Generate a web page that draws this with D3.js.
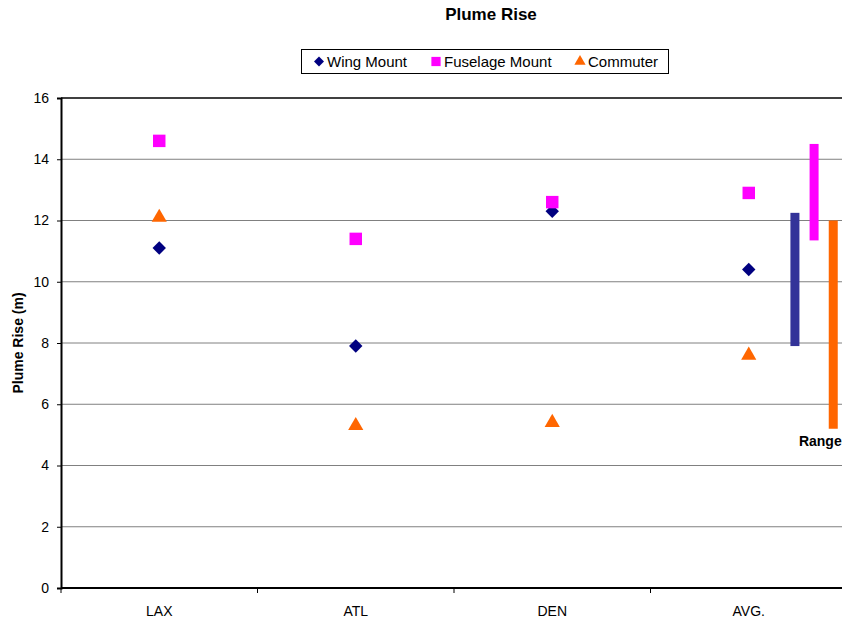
<!DOCTYPE html>
<html>
<head>
<meta charset="utf-8">
<script src="https://cdn.jsdelivr.net/npm/d3@7"></script>
<style>
  body { margin: 0; background: #fff; }
  svg { display: block; font-family: "Liberation Sans", Arial, sans-serif; }
</style>
</head>
<body>
<svg id="chart" width="842" height="622"></svg>
<script>
// --- data ---
const categories = ['LAX', 'ATL', 'DEN', 'AVG.'];
const wingMount = [11.1, 7.9, 12.3, 10.4];
const fuselageMount = [14.6, 11.4, 12.6, 12.9];
const commuter = [12.1, 5.3, 5.4, 7.6];
const yTicks = [0, 2, 4, 6, 8, 10, 12, 14, 16];

// range bars (min / max per series)
const rangeSeries = ['Wing Mount', 'Fuselage Mount', 'Commuter'];
const rangeLow = [7.9, 11.35, 5.2];
const rangeHigh = [12.25, 14.5, 12.0];

// diamond = square turned 45 degrees
const series = [
    { name: 'Wing Mount', values: wingMount, color: '#000080', symbol: d3.symbolSquare, size: 90, rot: 45 },
    { name: 'Fuselage Mount', values: fuselageMount, color: '#ff00ff', symbol: d3.symbolSquare, size: 155, rot: 0 },
    { name: 'Commuter', values: commuter, color: '#ff6600', symbol: d3.symbolTriangle, size: 100, rot: 0 }
];
const rangeColors = ['#333399', '#ff00ff', '#ff6600'];

const svg = d3.select('#chart');
const margin = { left: 61, top: 98, right: 847, bottom: 588 };

const x = d3.scaleBand().domain(categories).range([margin.left, margin.right]);
const y = d3.scaleLinear().domain([0, 16]).range([margin.bottom, margin.top]);

// gridlines
svg.append('g')
    .selectAll('line')
    .data(yTicks.filter(t => t > 0))
    .join('line')
    .attr('x1', margin.left)
    .attr('x2', margin.right)
    .attr('y1', d => y(d))
    .attr('y2', d => y(d))
    .attr('stroke', d => d === 16 ? '#000' : '#808080')
    .attr('stroke-width', d => d === 16 ? 1.5 : 1);

// y axis
const yAxis = svg.append('g')
    .attr('transform', `translate(${margin.left},0)`)
    .call(d3.axisLeft(y).tickValues(yTicks).tickSize(4).tickPadding(8));
yAxis.select('.domain').attr('stroke', '#000').attr('stroke-width', 2);
yAxis.selectAll('.tick line').attr('stroke', '#000');
yAxis.selectAll('.tick text').attr('font-size', 14).attr('fill', '#000')
    .attr('font-family', '"Liberation Sans", Arial, sans-serif');

// x axis: ticks on category boundaries
const xAxis = svg.append('g')
    .attr('transform', `translate(0,${margin.bottom})`);
xAxis.append('line')
    .attr('x1', margin.left).attr('x2', margin.right)
    .attr('stroke', '#000').attr('stroke-width', 2);
xAxis.selectAll('line.tk')
    .data(categories)
    .join('line')
    .attr('class', 'tk')
    .attr('x1', d => x(d)).attr('x2', d => x(d))
    .attr('y1', 0).attr('y2', 5)
    .attr('stroke', '#000');
xAxis.selectAll('text')
    .data(categories)
    .join('text')
    .attr('x', d => x(d) + x.bandwidth() / 2)
    .attr('y', 28)
    .attr('text-anchor', 'middle')
    .attr('font-size', 14)
    .text(d => d);

// markers
series.forEach(s => {
    svg.append('g')
        .selectAll('path')
        .data(s.values)
        .join('path')
        .attr('d', d3.symbol().type(s.symbol).size(s.size))
        .attr('transform', (d, i) => `translate(${x(categories[i]) + x.bandwidth() / 2},${y(d)}) rotate(${s.rot})`)
        .attr('fill', s.color);
});

// range bars inside the AVG. band
const avg = categories[categories.length - 1];
const rx = d3.scalePoint()
    .domain(rangeSeries)
    .range([x(avg) + x.bandwidth() * 0.735, x(avg) + x.bandwidth() * 0.93]);
svg.append('g')
    .selectAll('rect')
    .data(rangeSeries)
    .join('rect')
    .attr('x', d => rx(d) - 4.5)
    .attr('width', 9)
    .attr('y', (d, i) => y(rangeHigh[i]))
    .attr('height', (d, i) => y(rangeLow[i]) - y(rangeHigh[i]))
    .attr('fill', (d, i) => rangeColors[i]);

svg.append('text')
    .attr('x', rx('Wing Mount') + 4)
    .attr('y', y(4.65))
    .attr('font-size', 14)
    .attr('font-weight', 'bold')
    .text('Range');

// title
svg.append('text')
    .attr('x', 491)
    .attr('y', 20)
    .attr('text-anchor', 'middle')
    .attr('font-size', 17)
    .attr('font-weight', 'bold')
    .text('Plume Rise');

// y title
svg.append('text')
    .attr('transform', `translate(23,${(margin.top + margin.bottom) / 2}) rotate(-90)`)
    .attr('text-anchor', 'middle')
    .attr('font-size', 14)
    .attr('font-weight', 'bold')
    .text('Plume Rise (m)');

// legend
const legend = svg.append('g');
legend.append('rect')
    .attr('x', 301.5).attr('y', 49.5)
    .attr('width', 367).attr('height', 24)
    .attr('fill', '#fff').attr('stroke', '#000');
const legendX = [319, 436, 580];
series.forEach((s, i) => {
    legend.append('path')
        .attr('d', d3.symbol().type(s.symbol).size(s.size * 0.55))
        .attr('transform', `translate(${legendX[i]},61.5) rotate(${s.rot})`)
        .attr('fill', s.color);
    legend.append('text')
        .attr('x', legendX[i] + 8)
        .attr('y', 66.5)
        .attr('font-size', 15)
        .text(s.name);
});
</script>
</body>
</html>
